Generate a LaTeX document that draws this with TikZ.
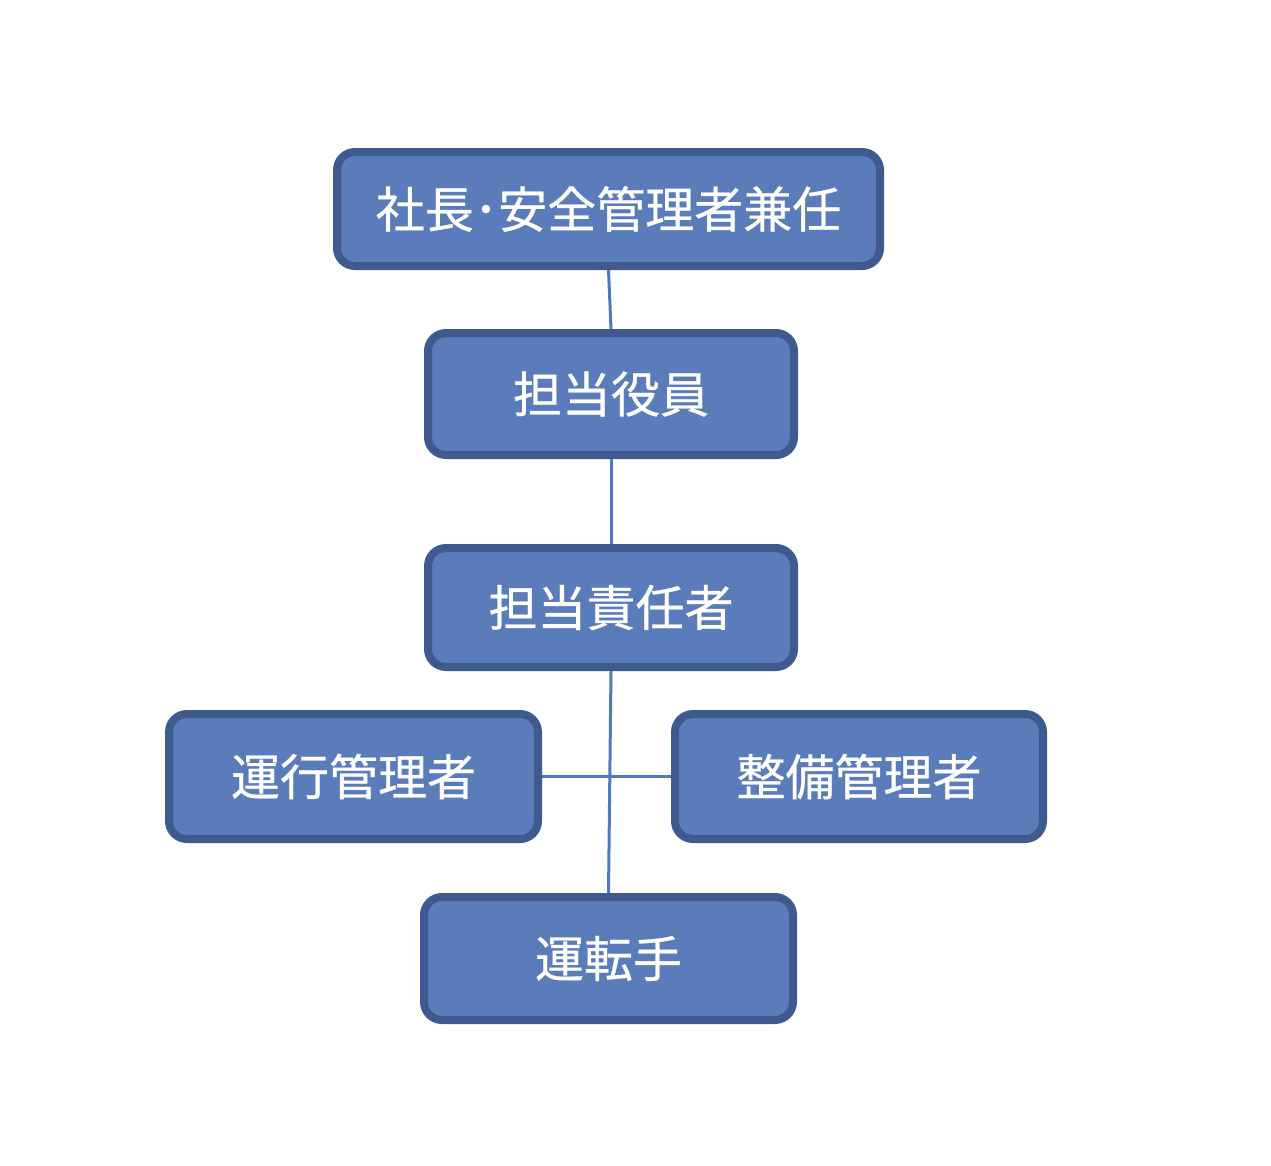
\documentclass[tikz,border=0pt]{standalone}
\usepackage{fontspec}
\newfontfamily\cjk[FakeBold=0.6]{Noto Sans CJK JP}
\usetikzlibrary{backgrounds}
\definecolor{boxfill}{HTML}{5A7CBB}
\definecolor{boxline}{HTML}{3F5A8E}
\definecolor{conn}{HTML}{4F79BD}
\tikzset{
  orgbox/.style={draw=boxline, fill=boxfill, line width=8pt, rounded corners=18pt,
    inner sep=0pt, text=white, font=\cjk\fontsize{49}{55}\selectfont},
  link/.style={draw=conn, line width=3pt}
}
\begin{document}
\begin{tikzpicture}[x=1pt,y=-1pt]
\useasboundingbox (0,0) rectangle (1271,1165);
\node[orgbox, minimum width=543pt, minimum height=114pt] (b1) at (608.5,209) {社長･安全管理者兼任};
\node[orgbox, minimum width=366pt, minimum height=122pt] (b2) at (611,394) {担当役員};
\node[orgbox, minimum width=366pt, minimum height=119pt] (b3) at (611,607.5) {担当責任者};
\node[orgbox, minimum width=369pt, minimum height=125pt] (b4) at (353.5,776.5) {運行管理者};
\node[orgbox, minimum width=368pt, minimum height=125pt] (b5) at (859,776.5) {整備管理者};
\node[orgbox, minimum width=369pt, minimum height=123pt] (b6) at (608.5,958.5) {運転手};
\begin{scope}[on background layer]
\draw[link] (b1.south) -- (b2.north);
\draw[link] (b2.south) -- (b3.north);
\draw[link] (b3.south) -- (b6.north);
\draw[link] (b4.east) -- (b5.west);
\end{scope}
\end{tikzpicture}
\end{document}
